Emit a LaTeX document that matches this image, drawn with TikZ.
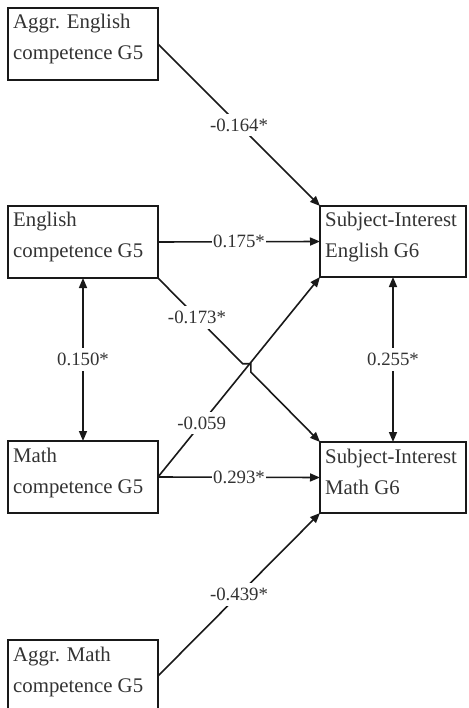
\documentclass[tikz,border=0pt]{standalone}
\usepackage{fontspec}
\setmainfont{Liberation Serif}
\usetikzlibrary{arrows.meta,calc}

\tikzset{
  box/.style={draw=black!90, line width=1.9pt, rectangle, anchor=north west,
    minimum width=150pt, minimum height=72pt, inner sep=0pt, outer sep=0pt},
  wide/.style={box, minimum width=146pt, minimum height=71pt},
  boxtxt/.style={anchor=base west, inner sep=0pt, text=black!80,
    font=\fontsize{20.8}{25}\selectfont},
  conn/.style={line width=1.6pt, draw=black!90,
    -{Triangle[length=10pt,width=8pt]}},
  both/.style={conn, {Triangle[length=10pt,width=8pt]}-{Triangle[length=10pt,width=8pt]}},
  lbl/.style={fill=white, text=black!80, inner xsep=1pt, inner ysep=5pt,
    font=\fontsize{18.8}{22}\selectfont},
}

\begin{document}
\begin{tikzpicture}[x=1pt, y=-1pt]
  \useasboundingbox (0,0) rectangle (468,708);

  % predictor boxes (left column)
  \node[box] (ae) at (8,8) {};
  \node[box] (en) at (8,206) {};
  \node[box] (ma) at (8,441) {};
  \node[box] (am) at (8,640) {};

  % outcome boxes (right column)
  \node[wide] (sie) at (320,206) {};
  \node[wide] (sim) at (320,442) {};

  % box texts
  \node[boxtxt] (ae1) at ($(ae.north west)+(5,21)$) {Aggr. English};
  \node[boxtxt] (ae2) at ($(ae.north west)+(5,52)$) {competence G5};
  \node[boxtxt] (en1) at ($(en.north west)+(5,21)$) {English};
  \node[boxtxt] (en2) at ($(en.north west)+(5,52)$) {competence G5};
  \node[boxtxt] (ma1) at ($(ma.north west)+(5,21)$) {Math};
  \node[boxtxt] (ma2) at ($(ma.north west)+(5,52)$) {competence G5};
  \node[boxtxt] (am1) at ($(am.north west)+(5,21)$) {Aggr. Math};
  \node[boxtxt] (am2) at ($(am.north west)+(5,52)$) {competence G5};
  \node[boxtxt] (sie1) at ($(sie.north west)+(5,21)$) {Subject-Interest};
  \node[boxtxt] (sie2) at ($(sie.north west)+(5,52)$) {English G6};
  \node[boxtxt] (sim1) at ($(sim.north west)+(5,21)$) {Subject-Interest};
  \node[boxtxt] (sim2) at ($(sim.north west)+(5,52)$) {Math G6};

  % paths
  \draw[conn] (ae.east) -- node[lbl] {-0.164*} (sie.north west);
  \draw[conn] (en.east) -- node[lbl] {0.175*} (sie.west);
  \draw[conn] (ma.east) -- node[lbl, pos=0.27] {-0.059} (sie.south west);

  % cross path with a small jump over the -0.059 line
  \coordinate (jA) at ($(en.south east)!0.523!(sim.north west)$);
  \coordinate (jB) at ($(en.south east)!0.573!(sim.north west)$);
  \draw[conn] (en.south east) -- node[lbl, pos=0.46] {-0.173*} (jA) -| (jB) -- (sim.north west);

  \draw[conn] (ma.east) -- node[lbl] {0.293*} (sim.west);
  \draw[conn] (am.east) -- node[lbl] {-0.439*} (sim.south west);

  % covariances
  \draw[both] (en.south) -- node[lbl] {0.150*} (ma.north);
  \draw[both] (sie.south) -- node[lbl] {0.255*} (sim.north);
\end{tikzpicture}
\end{document}
